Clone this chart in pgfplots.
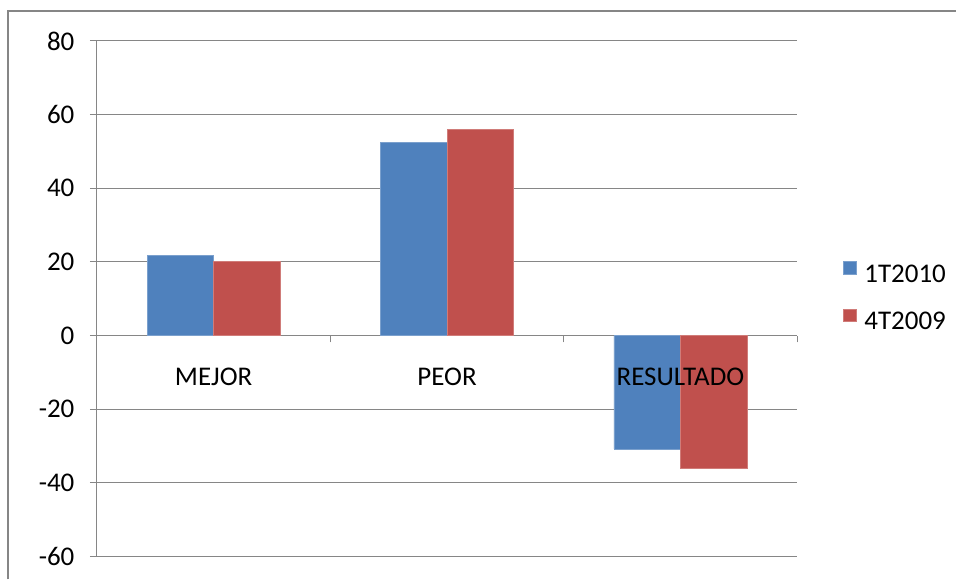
\documentclass[border=0pt]{standalone}
\usepackage{fontspec}
\setmainfont{Carlito}
\usepackage{pgfplots}
\pgfplotsset{compat=1.18}
\definecolor{barblue}{RGB}{79,129,189}
\definecolor{barred}{RGB}{192,80,77}
\definecolor{gridgray}{RGB}{134,134,134}
\definecolor{framegray}{RGB}{134,134,134}
\begin{document}
\begin{tikzpicture}
\fill[white] (0pt,0pt) rectangle (957pt,580pt);
\draw[framegray,line width=2pt] (8pt,0pt) -- (8pt,569pt) -- (957pt,569pt);
\begin{axis}[
  at={(97pt,23pt)}, anchor=south west,
  scale only axis, width=701pt, height=516pt,
  ymin=-60, ymax=80, ytick={-60,-40,...,80},
  xmin=-0.5, xmax=2.5,
  xtick={0,1,2}, xticklabels={},
  minor xtick={-0.5,0.5,1.5,2.5},
  axis y line*=left, axis x line*=middle,
  ymajorgrids, grid style={gridgray, line width=1pt},
  axis line style={gridgray, line width=1pt},
  tick align=outside,
  major tick length=7pt, minor tick length=7pt,
  major x tick style={draw=none},
  minor x tick style={gridgray, line width=1pt},
  major y tick style={gridgray, line width=1pt},
  /pgf/number format/assume math mode=true,
  tick label style={font=\fontsize{27}{32}\selectfont, text=black},
  yticklabel style={anchor=east, xshift=-12pt},
  legend style={at={(1.061,0.503)}, anchor=west, draw=none, fill=none,
    font=\fontsize{27}{32}\selectfont, row sep=23pt,
    /tikz/every odd column/.append style={column sep=6pt}},
  legend cell align=left,
  legend image code/.code={\fill[#1] (0pt,0pt) rectangle (12.5pt,12.5pt);},
  clip=false,
]
\addplot[ybar, bar width=0.285, bar shift=-0.1425, fill=barblue, draw=barblue!75!white, line width=0.8pt]
  coordinates {(0,21.8) (1,52.5) (2,-30.8)};
\addplot[ybar, bar width=0.285, bar shift=0.1425, fill=barred, draw=barred!75!white, line width=0.8pt]
  coordinates {(0,20.0) (1,56.0) (2,-36.1)};
\legend{1T2010,4T2009}
\node[anchor=base, yshift=-50pt, font=\fontsize{27}{32}\selectfont] at (axis cs:0,0) {MEJOR};
\node[anchor=base, yshift=-50pt, font=\fontsize{27}{32}\selectfont] at (axis cs:1,0) {PEOR};
\node[anchor=base, yshift=-50pt, font=\fontsize{27}{32}\selectfont] at (axis cs:2,0) {RESULTADO};
\end{axis}
\end{tikzpicture}
\end{document}
